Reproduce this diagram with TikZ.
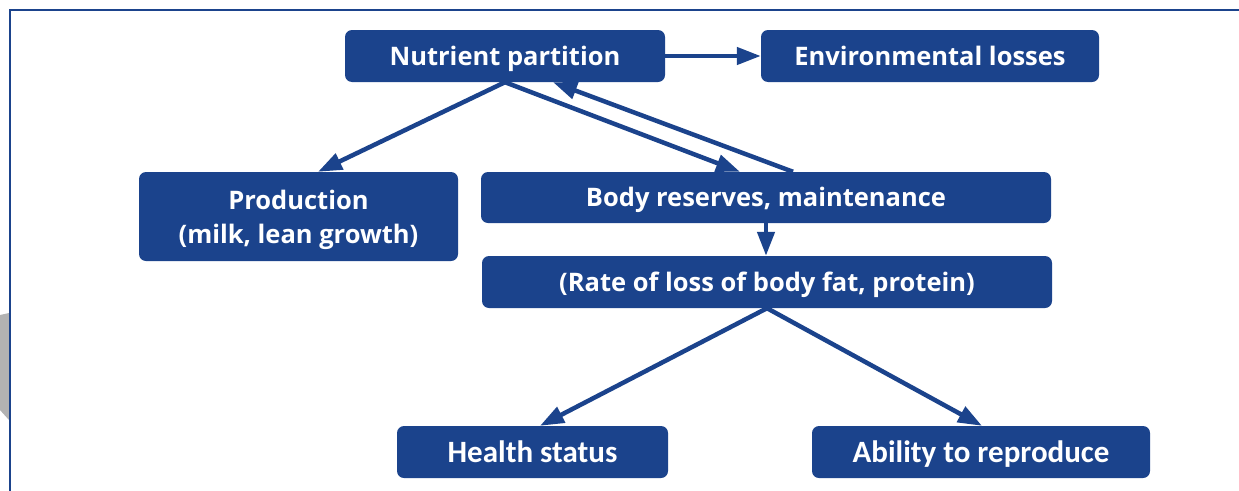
\documentclass[tikz,border=0pt]{standalone}
\usepackage{fontspec}
\setmainfont{Open Sans}
\newfontfamily\narrowfont{Carlito}
\usetikzlibrary{arrows.meta}
\definecolor{navy}{RGB}{27,67,140}
\begin{document}
\begin{tikzpicture}[x=1pt,y=-1pt,
  box/.style={fill=navy,rounded corners=7pt,text=white,font=\bfseries\fontsize{25.5}{34}\selectfont,align=center,inner sep=0pt,text height=24pt,text depth=5.8pt},
  twoline/.style={box,text height=,text depth=},
  narrowbox/.style={box,font=\narrowfont\bfseries\fontsize{31}{34}\selectfont,text height=26pt,text depth=6pt},
  link/.style={draw=navy,line width=4.5pt,-{Triangle[length=24pt,width=17pt]}}]
\useasboundingbox (0,0) rectangle (1239,490);
% side tab and frame
\fill[gray!60] (0,315) -- (9,313) -- (9,420) -- (0,410) -- cycle;
\begin{scope}
\clip (0,0) rectangle (1239,490);
\draw[navy,line width=2pt] (9.5,9.5) rectangle (1260,510);
\end{scope}
% boxes
\node[box,minimum width=320pt,minimum height=52pt] (np) at (505,56) {Nutrient partition};
\node[box,minimum width=338pt,minimum height=52pt] (el) at (930,56) {Environmental losses};
\node[twoline,minimum width=319pt,minimum height=89pt] (pr) at (298.5,216.5) {\rule{0pt}{26pt}Production\\(milk, lean growth)};
\node[box,minimum width=570pt,minimum height=51pt] (br) at (766,197.5) {Body reserves, maintenance};
\node[box,minimum width=570pt,minimum height=52pt] (rl) at (767,282) {(Rate of loss of body fat, protein)};
\node[narrowbox,minimum width=271pt,minimum height=52pt] (hs) at (532.5,452) {Health status};
\node[narrowbox,minimum width=338pt,minimum height=52pt] (ar) at (981,452) {Ability to reproduce};
% connectors
\draw[link] (np.east) -- (el.west);
\draw[link] (np.south) -- (pr.north -| 318,0);
\draw[link] (np.south) -- (br.north -| 740,0);
\draw[link] (br.north -| 793,0) -- (np.south -| 553,0);
\draw[link] (br.south) -- (rl.north -| br.south);
\draw[link] (rl.south) -- (hs.north -| 540,0);
\draw[link] (rl.south) -- (ar.north -| 982,0);
\end{tikzpicture}
\end{document}
